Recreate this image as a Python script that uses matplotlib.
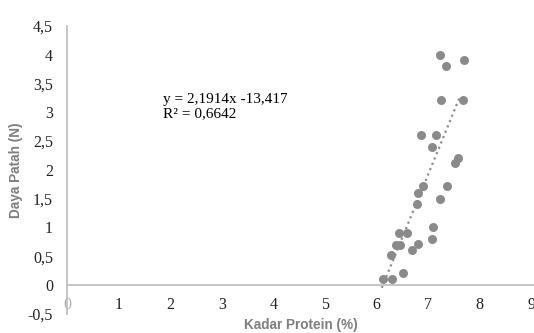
import numpy as np
import matplotlib
matplotlib.use("Agg")
import matplotlib.pyplot as plt

# data
kadar_protein = [7.23, 7.34, 7.69, 7.25, 7.68,
                 6.86, 7.15, 7.07, 7.58, 7.51, 6.89, 7.37, 6.80, 7.23, 6.78,
                 7.10, 7.07,
                 6.43, 6.58, 6.37, 6.45, 6.80, 6.68, 6.28, 6.52, 6.13, 6.29]
daya_patah = [3.99, 3.80, 3.91, 3.21, 3.21,
              2.60, 2.60, 2.40, 2.21, 2.11, 1.72, 1.71, 1.60, 1.50, 1.41,
              1.01, 0.80,
              0.90, 0.90, 0.69, 0.69, 0.71, 0.61, 0.52, 0.21, 0.10, 0.10]

slope, intercept = 2.1914, -13.417
trend_range = [6.10, 7.62]

x_ticks = [0, 1, 2, 3, 4, 5, 6, 7, 8, 9]
y_ticks = [-0.5, 0, 0.5, 1, 1.5, 2, 2.5, 3, 3.5, 4, 4.5]
y_tick_labels = ["-0,5", "0", "0,5", "1", "1,5", "2", "2,5", "3", "3,5", "4", "4,5"]

fig = plt.figure(figsize=(5.34, 3.33), dpi=100)
ax = fig.add_axes([0.1255, 0.0577, 0.8745, 0.8648])

ax.scatter(kadar_protein, daya_patah, s=42, color="#8a8a8a", zorder=3,
           linewidths=0)

xt = np.linspace(trend_range[0], trend_range[1], 50)
ax.plot(xt, slope * xt + intercept, linestyle=(0, (1, 1.6)), color="#8f8f8f",
        lw=1.6, zorder=2)

ax.text(1.86, 3.10, "y = 2,1914x -13,417\nR² = 0,6642",
        family="Liberation Serif", fontsize=11, va="center", ha="left",
        linespacing=1.15)

ax.set_xlim(0, 9.05)
ax.set_ylim(-0.5, 4.5)

for side in ["top", "right"]:
    ax.spines[side].set_visible(False)
ax.spines["bottom"].set_position(("data", 0))
ax.spines["left"].set_color("#c0c0c0")
ax.spines["bottom"].set_color("#c0c0c0")
ax.spines["left"].set_linewidth(1.3)
ax.spines["bottom"].set_linewidth(1.3)

ax.set_xticks(x_ticks)
ax.set_xticklabels([str(t) for t in x_ticks], family="Liberation Serif",
                   fontsize=11.5)
ax.set_yticks(y_ticks)
ax.set_yticklabels(y_tick_labels, family="Liberation Serif", fontsize=11.5)
ax.tick_params(axis="both", length=0, colors="#222222")
ax.tick_params(axis="x", pad=9)
ax.tick_params(axis="y", pad=10)
ax.get_xticklabels()[0].set_color("#b0b0b0")

ax.set_xlabel("Kadar Protein (%)", family="Liberation Sans", fontweight="bold",
              fontsize=9.8, color="#7f7f7f")
ax.xaxis.set_label_coords(0.5, -0.015)
ax.set_ylabel("Daya Patah (N)", family="Liberation Sans", fontweight="bold",
              fontsize=9.8, color="#7f7f7f")
ax.yaxis.set_label_coords(-0.095, 0.5)

fig.savefig("out.png", dpi=100)
